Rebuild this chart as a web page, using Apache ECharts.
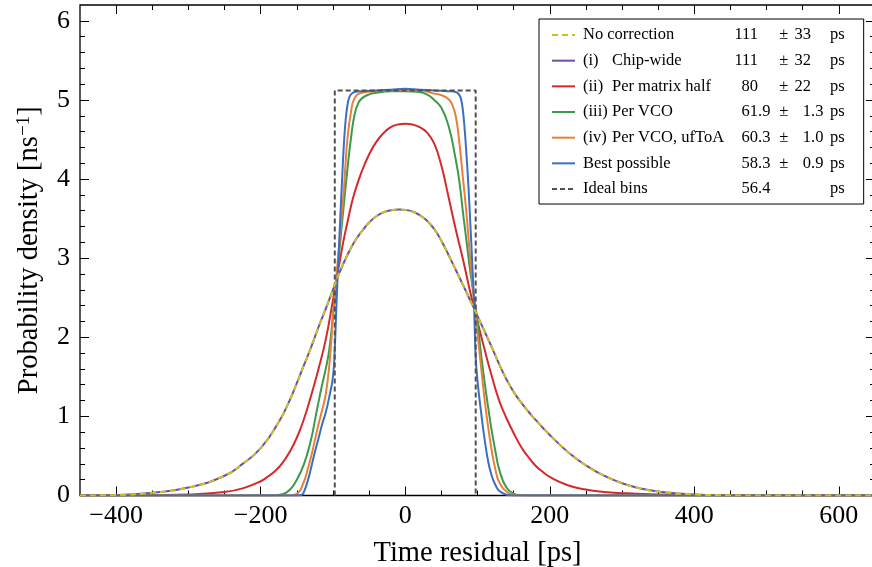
<!DOCTYPE html>
<html>
<head>
<meta charset="utf-8">
<script src="https://cdn.jsdelivr.net/npm/echarts@6/dist/echarts.min.js"></script>
<style>
  html, body { margin: 0; padding: 0; background: #fff; }
  #chart { width: 872px; height: 567px; }
</style>
</head>
<body>
<div id="chart"></div>
<script>
// legend text, in drawing order
var seriesNames = ['No correction', '(i) Chip-wide', '(ii) Per matrix half', '(iii) Per VCO',
                   '(iv) Per VCO, ufToA', 'Best possible', 'Ideal bins'];
var resValues = ['111', '111', '80', '61.9', '60.3', '58.3', '56.4'];
var resErrors = ['33', '32', '22', '1.3', '1.0', '0.9', ''];

// curves: [time residual (ps), density (ns^-1)]
var noCorrection = [[-450,0],[-400,0.006],[-350,0.035],[-300,0.1],[-250,0.25],[-225,0.4],[-200,0.6],[-175,0.93],
  [-160,1.2],[-150,1.42],[-140,1.65],[-130,1.88],[-120,2.13],[-110,2.36],[-100,2.6],[-90,2.84],[-80,3.04],[-70,3.21],
  [-60,3.34],[-50,3.45],[-40,3.53],[-30,3.58],[-20,3.605],[-8,3.615],[0,3.61],[10,3.59],[20,3.545],[30,3.475],
  [40,3.37],[50,3.22],[60,3.04],[70,2.85],[80,2.66],[90,2.465],[100,2.27],[110,2.07],[120,1.87],[130,1.66],[140,1.47],
  [150,1.31],[160,1.18],[170,1.065],[180,0.96],[190,0.86],[200,0.765],[225,0.55],[250,0.38],[275,0.25],[300,0.155],
  [325,0.09],[350,0.05],[400,0.013],[450,0.003],[500,0],[650,0]];
var chipWide = [[-450,0],[-400,0.006],[-350,0.035],[-300,0.1],[-250,0.25],[-225,0.4],[-200,0.6],[-175,0.93],
  [-160,1.2],[-150,1.42],[-140,1.65],[-130,1.88],[-120,2.13],[-110,2.36],[-100,2.6],[-90,2.84],[-80,3.04],[-70,3.21],
  [-60,3.34],[-50,3.45],[-40,3.53],[-30,3.58],[-20,3.605],[-8,3.615],[0,3.61],[10,3.59],[20,3.545],[30,3.475],
  [40,3.37],[50,3.22],[60,3.04],[70,2.85],[80,2.66],[90,2.465],[100,2.27],[110,2.07],[120,1.87],[130,1.66],[140,1.47],
  [150,1.31],[160,1.18],[170,1.065],[180,0.96],[190,0.86],[200,0.765],[225,0.55],[250,0.38],[275,0.25],[300,0.155],
  [325,0.09],[350,0.05],[400,0.013],[450,0.003],[500,0],[650,0]];
var perMatrixHalf = [[-450,0],[-400,0.001],[-350,0.004],[-300,0.012],[-250,0.045],[-225,0.09],[-200,0.18],[-190,0.24],
  [-180,0.31],[-170,0.41],[-160,0.55],[-150,0.73],[-140,0.97],[-130,1.27],[-120,1.6],[-110,1.97],[-100,2.47],
  [-95,2.74],[-90,2.99],[-85,3.24],[-80,3.45],[-75,3.66],[-70,3.83],[-60,4.1],[-50,4.31],[-40,4.47],[-30,4.58],
  [-20,4.655],[-10,4.69],[0,4.7],[10,4.69],[20,4.655],[30,4.59],[40,4.45],[50,4.17],[60,3.77],[70,3.36],[80,2.98],
  [90,2.57],[100,2.2],[110,1.84],[120,1.5],[130,1.2],[140,0.98],[150,0.79],[160,0.62],[170,0.49],[180,0.38],
  [190,0.3],[200,0.235],[225,0.13],[250,0.075],[275,0.045],[300,0.03],[350,0.012],[400,0.004],[450,0.001],[500,0],
  [650,0]];
var perVCO = [[-450,0],[-190,0],[-180,0.003],[-170,0.015],[-160,0.07],[-150,0.2],[-140,0.4],[-130,0.72],[-125,0.95],
  [-120,1.18],[-115,1.4],[-110,1.6],[-105,1.85],[-100,2.27],[-95,2.72],[-90,3.2],[-85,3.67],[-80,4.12],[-75,4.52],
  [-70,4.82],[-65,4.96],[-60,5.02],[-50,5.07],[-40,5.09],[-20,5.11],[0,5.11],[20,5.1],[30,5.07],[40,5.0],[50,4.9],
  [60,4.67],[70,4.24],[75,3.96],[80,3.57],[85,3.2],[90,2.83],[95,2.52],[100,2.2],[105,1.78],[110,1.42],[115,1.1],
  [120,0.8],[125,0.55],[130,0.33],[140,0.1],[150,0.025],[160,0.005],[170,0],[650,0]];
var perVCOufToA = [[-450,0],[-160,0],[-150,0.02],[-140,0.18],[-135,0.33],[-130,0.5],[-125,0.7],[-120,0.9],[-115,1.08],
  [-110,1.28],[-105,1.65],[-100,2.25],[-95,2.8],[-90,3.3],[-85,3.85],[-82.5,4.2],[-80,4.5],[-75,4.85],[-70,5.02],
  [-60,5.09],[-40,5.11],[-20,5.12],[0,5.12],[20,5.12],[40,5.08],[50,5.06],[60,5.01],[65,4.94],[70,4.79],[75,4.45],
  [80,4.0],[85,3.54],[90,2.98],[95,2.5],[100,2.05],[105,1.62],[110,1.2],[115,0.85],[120,0.55],[125,0.32],[130,0.17],
  [140,0.05],[150,0.01],[160,0],[650,0]];
var bestPossible = [[-450,0],[-150,0],[-143,0.01],[-140,0.05],[-135,0.18],[-130,0.36],[-125,0.55],[-120,0.72],
  [-115,0.9],[-110,1.05],[-105,1.25],[-100,1.5],[-97.5,1.85],[-95,2.45],[-92.5,2.97],[-90,3.48],[-87.5,3.97],
  [-85,4.42],[-82.5,4.74],[-80,4.93],[-77.5,5.03],[-75,5.07],[-70,5.1],[-60,5.11],[-40,5.12],[-20,5.13],[0,5.14],
  [20,5.13],[40,5.12],[60,5.11],[70,5.1],[75,5.06],[77.5,5.0],[80,4.85],[82.5,4.6],[85,4.27],[87.5,3.9],[90,3.45],
  [92.5,2.98],[95,2.47],[97.5,1.75],[100,1.45],[105,1.05],[110,0.7],[115,0.42],[120,0.24],[125,0.13],[130,0.06],
  [140,0.01],[150,0],[650,0]];
var idealBins = [[-97.5,0],[-97.5,5.12],[97.5,5.12],[97.5,0]];

var curveData = [noCorrection, chipWide, perMatrixHalf, perVCO, perVCOufToA, bestPossible, idealBins];
var colors = ['#cdc21e', '#6c4fa6', '#d42a2c', '#3b9a4b', '#e8803a', '#3a6fc2', '#505050'];

var serif = 'Liberation Serif, Times New Roman, serif';
var legendFontSize = 16.5;
var tickFontSize = 26;
var titleFontSize = 28.5;

function minusFmt(v) {
  return v < 0 ? '\u2212' + Math.abs(v) : String(v);
}

// measure legend pieces so the numbers line up in columns
var measureCtx = document.createElement('canvas').getContext('2d');
measureCtx.font = legendFontSize + 'px ' + serif;
function tw(s) { return measureCtx.measureText(s).width; }

// column positions, px from the start of the legend text
var colIntEnd = 178, colPm = 199.3, colErrEnd = 231, colPs = 250;

var legendRich = {
  sp: { width: 3 },
  rn: { width: 29 },
  t: {}
};
var legendStrings = {};
seriesNames.forEach(function (name, r) {
  var m = name.match(/^(\([ivx]+\))\s*(.*)$/);
  var s = '{sp| }';
  var labEnd = 3;
  if (m) { s += '{rn|' + m[1] + '}{t|' + m[2] + '}'; labEnd += 29 + tw(m[2]); }
  else { s += '{t|' + name + '}'; labEnd += tw(name); }
  var v = resValues[r].split('.');
  var vd = v[1] ? '.' + v[1] : '';
  legendRich['ga' + r] = { width: Math.max(0, colIntEnd - tw(v[0]) - labEnd) };
  s += '{ga' + r + '| }{t|' + v[0] + '}' + (vd ? '{t|' + vd + '}' : '');
  if (resErrors[r]) {
    var e = resErrors[r].split('.');
    var ed = e[1] ? '.' + e[1] : '';
    legendRich['gb' + r] = { width: Math.max(0, colPm - colIntEnd - tw(vd)) };
    legendRich['gc' + r] = { width: Math.max(0, colErrEnd - tw(e[0]) - colPm - tw('\u00b1')) };
    legendRich['gd' + r] = { width: Math.max(0, colPs - colErrEnd - tw(ed)) };
    s += '{gb' + r + '| }{t|\u00b1}{gc' + r + '| }{t|' + e[0] + '}' + (ed ? '{t|' + ed + '}' : '') + '{gd' + r + '| }';
  } else {
    legendRich['gb' + r] = { width: Math.max(0, colPs - colIntEnd - tw(vd)) };
    s += '{gb' + r + '| }';
  }
  legendStrings[name] = s + '{t|ps}';
});
Object.keys(legendRich).forEach(function (k) {
  legendRich[k].fontFamily = serif;
  legendRich[k].fontSize = legendFontSize;
  legendRich[k].color = '#000';
});

var chart = echarts.init(document.getElementById('chart'));

var series = curveData.map(function (d, i) {
  var dashed = (i === 0 || i === 6);
  return {
    name: seriesNames[i],
    type: 'line',
    xAxisIndex: 0,
    yAxisIndex: 0,
    data: d,
    symbol: 'none',
    smooth: i === 6 ? false : 0.5,
    z: i === 0 ? 5 : (i === 6 ? 4 : 3),
    lineStyle: {
      color: colors[i],
      width: 2,
      type: dashed ? (i === 0 ? [6, 4] : [5, 3]) : 'solid'
    },
    itemStyle: { color: colors[i] },
    emphasis: { disabled: true }
  };
});

var tickStyle = { color: '#000', width: 1 };
var majorX = {
  gridIndex: 1, type: 'value', min: -400, max: 600, interval: 200,
  axisLine: { show: false, onZero: false },
  axisTick: { show: true, inside: true, length: 9, lineStyle: tickStyle },
  minorTick: { show: true, splitNumber: 4, length: 5, lineStyle: tickStyle },
  splitLine: { show: false },
  axisLabel: { show: true, margin: 8, color: '#000', fontFamily: serif, fontSize: tickFontSize, formatter: minusFmt }
};
var majorY = {
  gridIndex: 1, type: 'value', min: 0, max: 6, interval: 1,
  axisLine: { show: false, onZero: false },
  axisTick: { show: true, inside: true, length: 9, lineStyle: tickStyle },
  minorTick: { show: true, splitNumber: 5, length: 5, lineStyle: tickStyle },
  splitLine: { show: false },
  axisLabel: { show: true, margin: 10, color: '#000', fontFamily: serif, fontSize: tickFontSize }
};

var option = {
  animation: false,
  backgroundColor: '#fff',
  grid: [
    { left: 80, top: 5, width: 795, height: 490.5, show: true, borderColor: '#000', borderWidth: 1.3,
      backgroundColor: 'transparent', outerBoundsMode: 'none', containLabel: false },
    { left: 116.14, top: 20.82, width: 722.73, height: 474.68, show: false, outerBoundsMode: 'none', containLabel: false }
  ],
  xAxis: [
    { gridIndex: 0, type: 'value', min: -450, max: 650, show: false },
    Object.assign({}, majorX, {
      position: 'bottom',
      name: 'Time residual [ps]', nameLocation: 'middle', nameGap: 44,
      nameTextStyle: { color: '#000', fontFamily: serif, fontSize: titleFontSize }
    }),
    Object.assign({}, majorX, { position: 'top', offset: 15.82, axisLabel: { show: false } })
  ],
  yAxis: [
    {
      gridIndex: 0, type: 'value', min: 0, max: 6.2, position: 'left',
      axisLine: { show: false, onZero: false }, axisTick: { show: false },
      axisLabel: { show: false }, splitLine: { show: false },
      name: 'Probability density [ns{sup|\u22121}]', nameLocation: 'middle', nameGap: 36,
      nameTextStyle: {
        color: '#000', fontFamily: serif, fontSize: titleFontSize,
        rich: { sup: { fontFamily: serif, fontSize: 19, color: '#000', verticalAlign: 'top' } }
      }
    },
    Object.assign({}, majorY, { position: 'left', offset: 36.14 }),
    Object.assign({}, majorY, { position: 'right', offset: 36.13, axisLabel: { show: false } })
  ],
  legend: {
    show: true,
    orient: 'vertical',
    left: 539, top: 19,
    padding: [7, 19, 6, 12],
    itemWidth: 23, itemHeight: 14, itemGap: 7.67,
    backgroundColor: '#fff',
    borderColor: '#000', borderWidth: 1, borderRadius: 0,
    selectedMode: false,
    align: 'left',
    itemStyle: { opacity: 0, borderWidth: 0 },
    data: seriesNames,
    formatter: function (name) { return legendStrings[name]; },
    textStyle: {
      color: '#000', fontFamily: serif, fontSize: legendFontSize, lineHeight: 18,
      rich: legendRich
    }
  },
  series: series
};

chart.setOption(option);
</script>
</body>
</html>
